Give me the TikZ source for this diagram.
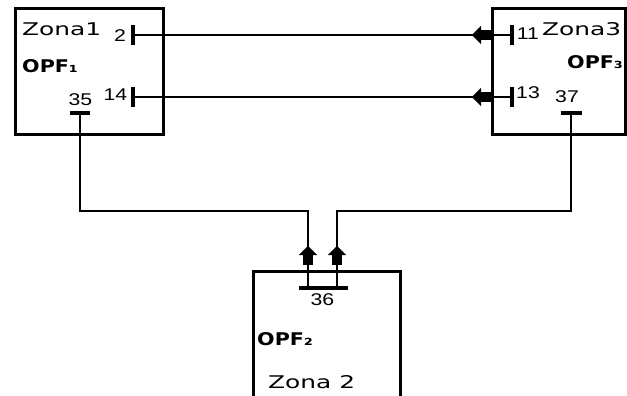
\documentclass[tikz,border=0pt]{standalone}
\usepackage{fontspec}
\setmainfont{Liberation Sans}[FakeStretch=1.25]
\newfontfamily\zonafont{DejaVu Sans}[FakeStretch=1.42]
\newfontfamily\opffont{DejaVu Sans Bold}[FakeStretch=1.18]
\usetikzlibrary{arrows.meta}

\tikzset{
  zona/.style={draw, line width=2.8pt, inner sep=0pt, anchor=north west},
  bus/.style={line width=3.4pt},
  wire/.style={line width=1.5pt},
  num/.style={font=\fontsize{17}{17}\selectfont, inner sep=0pt},
  zname/.style={font=\zonafont\fontsize{17.5}{17.5}\selectfont, inner sep=0pt, anchor=base west},
  opf/.style={font=\opffont\fontsize{17.5}{17.5}\selectfont, inner sep=0pt, anchor=base west},
  flow/.style={wire, -{Rectangle[length=10pt,width=10pt] Triangle[length=9pt,width=18pt]}},
}

\begin{document}
\begin{tikzpicture}[x=1pt,y=-1pt]
    \useasboundingbox (0,0) rectangle (627,396);

    % the three zones
    \node[zona, minimum width=148pt, minimum height=126pt] (z1) at (14,7) {};
    \node[zona, minimum width=133pt, minimum height=126pt] (z3) at (491,7) {};
    \node[zona, minimum width=147pt, minimum height=140pt] (z2) at (252,270) {};

    % bus bars
    \coordinate (b2) at (133,35);
    \coordinate (b14) at (133,97);
    \coordinate (b11) at (512,35);
    \coordinate (b13) at (512,97);
    \coordinate (b35) at (80,113);
    \coordinate (b37) at (571,113);
    \coordinate (b36) at (323.5,288);
    \foreach \b in {b2,b14,b11,b13}
        \draw[bus] ([yshift=10pt]\b) -- ([yshift=-10pt]\b);
    \draw[bus] ([xshift=-10pt]b35) -- ([xshift=10pt]b35);
    \draw[bus] ([xshift=-10.5pt]b37) -- ([xshift=10.5pt]b37);
    \draw[bus] ([xshift=-24.5pt]b36) -- ([xshift=24.5pt]b36);

    % points for the lines
    \coordinate (a11) at (472,35);
    \coordinate (a13) at (472,97);
    \coordinate (k1) at (308,211);
    \coordinate (k2) at (337,211);
    \coordinate (j1) at (308,288);
    \coordinate (j2) at (337,288);
    \coordinate (a1) at (308,246);
    \coordinate (a2) at (337,246);

    % lines between zones
    \draw[wire] (b2) -- (b11);
    \draw[wire] (b14) -- (b13);
    \draw[flow] (b11) -- (a11);
    \draw[flow] (b13) -- (a13);
    \draw[wire] (b35) |- (k1) -- (j1);
    \draw[wire] (b37) |- (k2) -- (j2);
    \draw[flow] (j1) -- (a1);
    \draw[flow] (j2) -- (a2);

    % bus numbers
    \node[num] (n2) at (120,35.5) {2};
    \node[num] (n14) at (115.5,95) {14};
    \node[num] (n35) at (80.5,100) {35};
    \node[num] (n11) at (528,34) {11};
    \node[num] (n13) at (528,93) {13};
    \node[num] (n37) at (567,97) {37};
    \node[num] (n36) at (322.5,300) {36};

    % zone names
    \node[zname] (t1) at (22,36) {Zona1};
    \node[opf] (o1) at (22,72.5) {OPF₁};
    \node[zname] (t3) at (542,36) {Zona3};
    \node[opf] (o3) at (567,68.5) {OPF₃};
    \node[opf] (o2) at (257,345) {OPF₂};
    \node[zname] (t2) at (268,388) {Zona 2};
\end{tikzpicture}
\end{document}
